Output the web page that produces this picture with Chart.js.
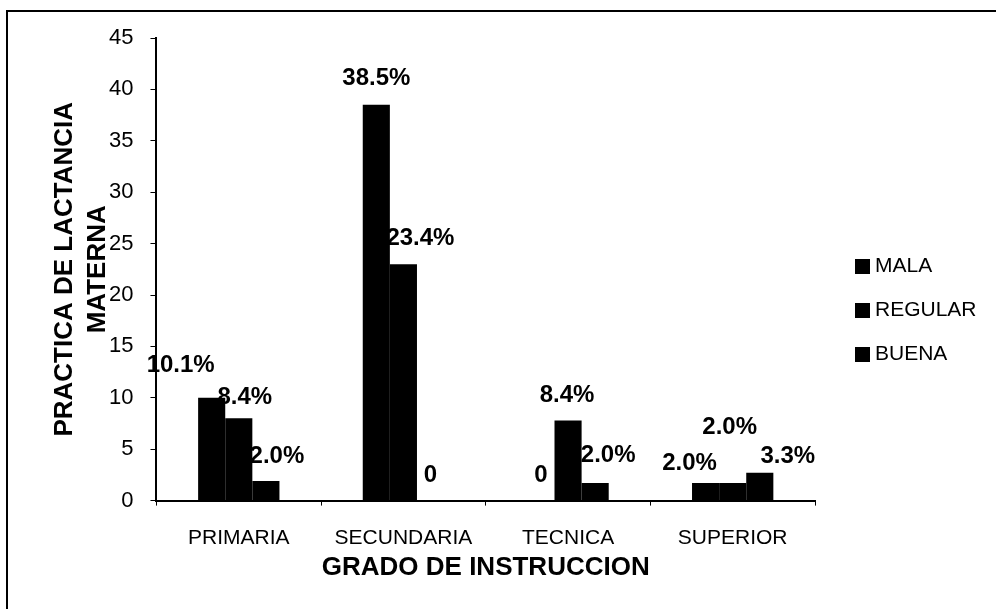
<!DOCTYPE html>
<html>
<head>
<meta charset="utf-8">
<script src="https://cdn.jsdelivr.net/npm/chart.js@4"></script>
<style>
  html, body { margin: 0; padding: 0; background: #fff; overflow: hidden; }
  #wrap { position: relative; width: 996px; height: 609px; }
  #frame { position: absolute; left: 6px; top: 10px; width: 1000px; height: 700px;
           border-left: 2px solid #000; border-top: 2px solid #000; }
  canvas { position: absolute; left: 0; top: 0; }
</style>
</head>
<body>
<div id="wrap">
  <div id="frame"></div>
  <canvas id="Chart1" width="996" height="609"></canvas>
</div>
<script>
const categories = ["PRIMARIA", "SECUNDARIA", "TECNICA", "SUPERIOR"];
const seriesNames = ["MALA", "REGULAR", "BUENA"];
const malaValues = [10, 38.5, 0, 1.7];
const regularValues = [8, 23, 7.8, 1.7];
const buenaValues = [1.9, 0, 1.7, 2.7];
const malaLabels = ["10.1%", "38.5%", "0", "2.0%"];
const regularLabels = ["8.4%", "23.4%", "8.4%", "2.0%"];
const buenaLabels = ["2.0%", "0", "2.0%", "3.3%"];

// where each value label sits relative to the top of its bar (px)
const labelShift = [
  [[-31, -32], [0, -26], [0, -25], [-16, -20]],
  [[6, -21], [17, -26], [-1, -25], [-3, -56]],
  [[11, -25], [0, -25], [13, -28], [28, -16]]
];
const allLabels = [malaLabels, regularLabels, buenaLabels];

const fontName = "'Liberation Sans', Arial, sans-serif";

const valueLabels = {
  id: 'valueLabels',
  afterDatasetsDraw(chart) {
    const c = chart.ctx;
    c.save();
    c.fillStyle = '#000';
    c.font = 'bold 24px ' + fontName;
    c.textAlign = 'center';
    c.textBaseline = 'middle';
    chart.data.datasets.forEach((ds, i) => {
      chart.getDatasetMeta(i).data.forEach((bar, j) => {
        const s = labelShift[i][j];
        c.fillText(allLabels[i][j], bar.x + s[0], bar.y + s[1]);
      });
    });
    c.restore();
  }
};

const sideLegend = {
  id: 'sideLegend',
  afterDraw(chart) {
    const c = chart.ctx;
    c.save();
    c.font = '21px ' + fontName;
    c.textBaseline = 'middle';
    chart.data.datasets.forEach((ds, i) => {
      const y = 266 + i * 44;
      c.fillStyle = ds.backgroundColor;
      c.fillRect(855, y - 7, 15, 15);
      c.fillStyle = '#000';
      c.fillText(ds.label, 875, y);
    });
    c.restore();
  }
};

const ctx = document.getElementById('Chart1');

new Chart(ctx, {
  type: 'bar',
  data: {
    labels: categories,
    datasets: [
      { label: seriesNames[0], data: malaValues, backgroundColor: '#000' },
      { label: seriesNames[1], data: regularValues, backgroundColor: '#000' },
      { label: seriesNames[2], data: buenaValues, backgroundColor: '#000' }
    ]
  },
  options: {
    responsive: false,
    animation: false,
    categoryPercentage: 0.494,
    barPercentage: 1,
    layout: { padding: { left: 29, top: 38, right: 181, bottom: 26 } },
    scales: {
      x: {
        grid: { display: true, drawOnChartArea: false, color: '#000', tickLength: 5 },
        border: { color: '#000', width: 2 },
        ticks: { color: '#000', padding: 20, font: { size: 21, family: fontName } },
        title: {
          display: true,
          text: 'GRADO DE INSTRUCCION',
          color: '#000',
          padding: { top: -19, bottom: 0 },
          font: { size: 26, weight: 'bold', family: fontName }
        }
      },
      y: {
        min: 0,
        max: 45,
        grid: { drawOnChartArea: false, color: '#000', tickLength: 6 },
        border: { color: '#000', width: 2 },
        ticks: { stepSize: 5, color: '#000', padding: 17, font: { size: 22, family: fontName } },
        title: {
          display: true,
          text: ['PRACTICA DE LACTANCIA', 'MATERNA'],
          color: '#000',
          padding: { top: 20, bottom: -22 },
          font: { size: 26, weight: 'bold', family: fontName, lineHeight: 1.25 }
        }
      }
    },
    plugins: {
      legend: { display: false },
      tooltip: { enabled: false }
    }
  },
  plugins: [valueLabels, sideLegend]
});
</script>
</body>
</html>
